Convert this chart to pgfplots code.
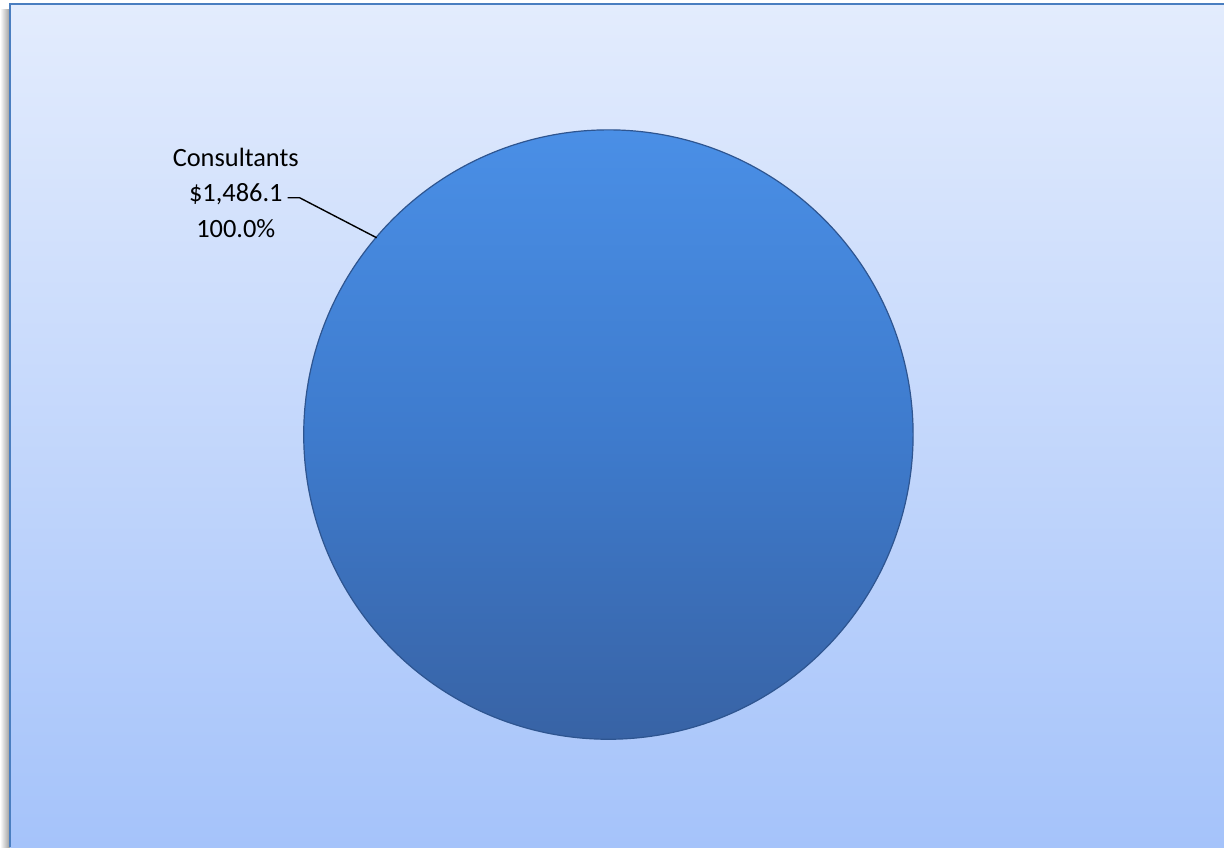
\documentclass[border=0pt]{standalone}
\usepackage{pgfplots}
\pgfplotsset{compat=1.18}
\usepackage{pgfplotstable}
\usepackage{fontspec}
\setmainfont{Carlito}
\definecolor{bgtop}{HTML}{E3ECFD}
\definecolor{bgbot}{HTML}{A5C3FA}
\definecolor{frame}{HTML}{4A7EC0}
\definecolor{pietop}{HTML}{4A8FE6}
\definecolor{piemid}{HTML}{3E7BCD}
\definecolor{piebot}{HTML}{3863A5}
\definecolor{pieedge}{HTML}{2E5590}
\pgfplotstableread{
category value
Consultants 1486.1
}\piedata
\pgfplotstablegetelem{0}{value}\of\piedata
\let\consval\pgfplotsretval
\begin{document}
\begin{tikzpicture}
\begin{axis}[
  scale only axis, width=612.5pt, height=424pt,
  xmin=0, xmax=1225, ymin=0, ymax=848,
  hide axis, clip=false,
]
% overall extent
\path[fill=white] (axis cs:0,0) rectangle (axis cs:1225,848);
% shadow at left
\fill[left color=white, right color=black!40] (axis cs:0,0) rectangle (axis cs:10,838);
% background
\fill[top color=bgtop, bottom color=bgbot] (axis cs:10,0) rectangle (axis cs:1225,844);
\draw[frame, line width=1.2pt] (axis cs:10,0) -- (axis cs:10,844) -- (axis cs:1225,844);
% pie (single slice, 100%)
\pgfmathsetmacro{\frac}{\consval/\consval}
\addplot[draw=pieedge, line width=0.6pt, top color=pietop, bottom color=piebot, middle color=piemid,
  domain=90:90-360*\frac, samples=361]
  ({609+305*cos(x)}, {413+305*sin(x)}) -- cycle;
% leader line
\draw[black, line width=0.7pt] (axis cs:288,650) -- (axis cs:300,650) -- (axis cs:377,610);
\node[align=center, font=\fontsize{13.2}{17.6}\selectfont, anchor=center] at (axis cs:236,655)
  {Consultants\\\$1,486.1\\100.0\%};
\end{axis}
\end{tikzpicture}
\end{document}
